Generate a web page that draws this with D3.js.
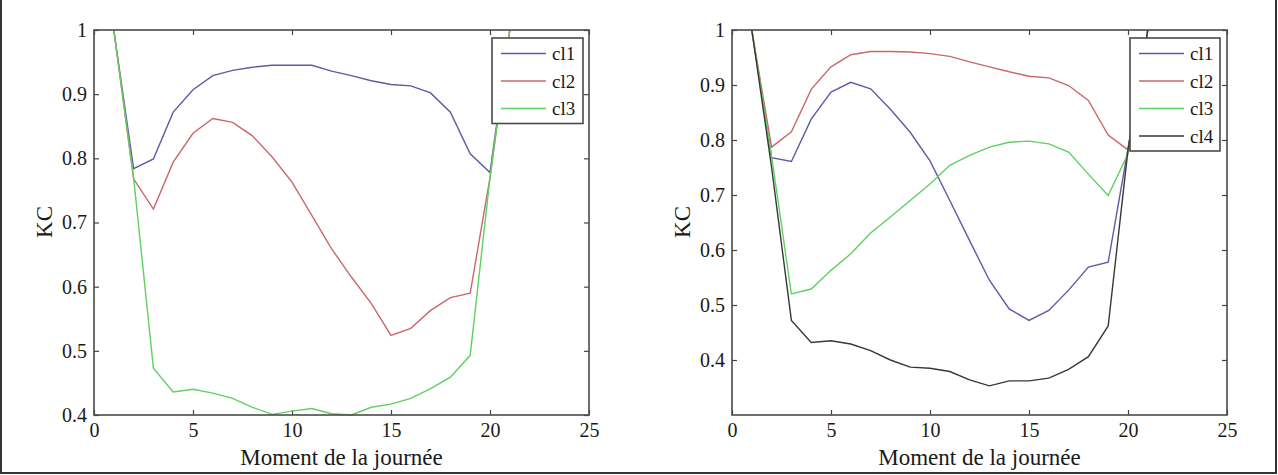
<!DOCTYPE html>
<html>
<head>
<meta charset="utf-8">
<script src="https://cdn.jsdelivr.net/npm/d3@7"></script>
<style>
	body { margin: 0; background: #fff; }
</style>
</head>
<body>
<div id="chart"></div>
<script>
// moments 1..21
const moments = d3.range(1, 22);
const xTicks = [0, 5, 10, 15, 20, 25];
const yTicks = [0.4, 0.5, 0.6, 0.7, 0.8, 0.9, 1];

// left panel (3 classes)
const leftCl1 = [1.0, 0.784, 0.799, 0.872, 0.907, 0.929, 0.937, 0.942, 0.945, 0.945, 0.945, 0.936, 0.929, 0.921, 0.915, 0.913, 0.902, 0.872, 0.807, 0.778, 1.0];
const leftCl2 = [1.0, 0.768, 0.721, 0.794, 0.839, 0.862, 0.856, 0.835, 0.802, 0.763, 0.711, 0.659, 0.615, 0.574, 0.524, 0.535, 0.563, 0.583, 0.590, 0.770, 1.0];
const leftCl3 = [1.0, 0.770, 0.473, 0.436, 0.440, 0.434, 0.426, 0.412, 0.401, 0.406, 0.410, 0.402, 0.400, 0.412, 0.417, 0.426, 0.441, 0.459, 0.493, 0.770, 1.0];

// right panel (4 classes)
const rightCl1 = [1.0, 0.768, 0.761, 0.838, 0.887, 0.905, 0.893, 0.856, 0.814, 0.762, 0.690, 0.617, 0.545, 0.493, 0.472, 0.490, 0.527, 0.569, 0.578, 0.784, 1.0];
const rightCl2 = [1.0, 0.787, 0.815, 0.892, 0.933, 0.955, 0.961, 0.961, 0.960, 0.957, 0.952, 0.942, 0.933, 0.924, 0.916, 0.913, 0.899, 0.872, 0.809, 0.782, 1.0];
const rightCl3 = [1.0, 0.770, 0.520, 0.529, 0.563, 0.593, 0.631, 0.660, 0.690, 0.720, 0.754, 0.772, 0.787, 0.796, 0.798, 0.793, 0.778, 0.738, 0.699, 0.775, 1.0];
const rightCl4 = [1.0, 0.750, 0.472, 0.432, 0.435, 0.429, 0.417, 0.400, 0.387, 0.385, 0.379, 0.364, 0.353, 0.362, 0.362, 0.367, 0.383, 0.406, 0.462, 0.782, 1.0];

const colors = { cl1: "#5b5ba6", cl2: "#c9686c", cl3: "#5fd062", cl4: "#383838" };
const serif = "'Liberation Serif', 'Times New Roman', 'DejaVu Serif', serif";

const W = 1278, H = 475;
const svg = d3.select("#chart").append("svg")
	.attr("width", W)
	.attr("height", H)
	.attr("font-family", serif);

// outer frame of the figure
svg.append("path")
	.attr("d", `M1,0 V${H - 2} H${W - 2} V0`)
	.attr("fill", "none")
	.attr("stroke", "#333")
	.attr("stroke-width", 2);

function panel(opts) {
	const x = d3.scaleLinear().domain([0, 25]).range([opts.left, opts.right]);
	const y = d3.scaleLinear().domain(opts.yDomain).range([415, 30]);
	const g = svg.append("g");

	const fmtY = d => d === 1 ? "1" : d3.format(".1f")(d);

	// axes, MATLAB style: inward ticks on every side
	g.append("g")
		.attr("transform", "translate(0,415)")
		.call(d3.axisBottom(x).tickValues(xTicks).tickSize(-5).tickSizeOuter(0).tickPadding(8).tickFormat(d3.format("d")));
	g.append("g")
		.attr("transform", `translate(${opts.left},0)`)
		.call(d3.axisLeft(y).tickValues(yTicks).tickSize(-5).tickSizeOuter(0).tickPadding(7).tickFormat(fmtY));
	g.append("g")
		.attr("transform", "translate(0,30)")
		.call(d3.axisTop(x).tickValues(xTicks).tickSize(-5).tickSizeOuter(0).tickFormat(""));
	g.append("g")
		.attr("transform", `translate(${opts.right},0)`)
		.call(d3.axisRight(y).tickValues(yTicks).tickSize(-5).tickSizeOuter(0).tickFormat(""));

	g.selectAll("g").attr("font-family", serif);
	g.selectAll(".domain").remove();
	g.selectAll(".tick line").attr("stroke", "#444").attr("stroke-width", 1.2);
	g.selectAll(".tick text")
		.attr("font-size", "20px")
		.attr("font-family", serif)
		.attr("fill", "#1a1a1a");

	// lines
	const line = d3.line()
		.x((d, i) => x(moments[i]))
		.y(d => y(d));

	g.selectAll(".serie")
		.data(opts.series)
		.join("path")
		.attr("class", "serie")
		.attr("fill", "none")
		.attr("stroke", d => colors[d.name])
		.attr("stroke-width", 1.4)
		.attr("d", d => line(d.values));

	// box
	g.append("rect")
		.attr("x", opts.left)
		.attr("y", 30)
		.attr("width", opts.right - opts.left)
		.attr("height", 385)
		.attr("fill", "none")
		.attr("stroke", "#4a4a4a")
		.attr("stroke-width", 1.6);

	// legend
	const lg = g.append("g").attr("transform", `translate(${opts.legendX},38)`);
	lg.append("rect")
		.attr("width", opts.legendW)
		.attr("height", 3 + opts.series.length * 27.5)
		.attr("fill", "#fff")
		.attr("stroke", "#4a4a4a")
		.attr("stroke-width", 1.6);
	opts.series.forEach((s, i) => {
		const yy = 15.5 + i * 27.5;
		lg.append("line")
			.attr("x1", 9).attr("x2", 54)
			.attr("y1", yy).attr("y2", yy)
			.attr("stroke", colors[s.name])
			.attr("stroke-width", 1.4);
		lg.append("text")
			.attr("x", 60)
			.attr("y", yy)
			.attr("dy", "0.35em")
			.attr("font-size", "19px")
			.attr("fill", "#1a1a1a")
			.text(s.name);
	});

	// titles
	g.append("text")
		.attr("x", (opts.left + opts.right) / 2)
		.attr("y", 465)
		.attr("text-anchor", "middle")
		.attr("font-size", "23px")
		.attr("fill", "#1a1a1a")
		.text("Moment de la journée");
	g.append("text")
		.attr("transform", `translate(${opts.left - 42},222)rotate(-90)`)
		.attr("text-anchor", "middle")
		.attr("font-size", "23px")
		.attr("fill", "#1a1a1a")
		.text("KC");
}

panel({
	left: 94, right: 589, yDomain: [0.4, 1], legendX: 492, legendW: 91,
	series: [
		{ name: "cl1", values: leftCl1 },
		{ name: "cl2", values: leftCl2 },
		{ name: "cl3", values: leftCl3 }
	]
});

panel({
	left: 732, right: 1227, yDomain: [0.3, 1], legendX: 1130, legendW: 90,
	series: [
		{ name: "cl1", values: rightCl1 },
		{ name: "cl2", values: rightCl2 },
		{ name: "cl3", values: rightCl3 },
		{ name: "cl4", values: rightCl4 }
	]
});
</script>
</body>
</html>
